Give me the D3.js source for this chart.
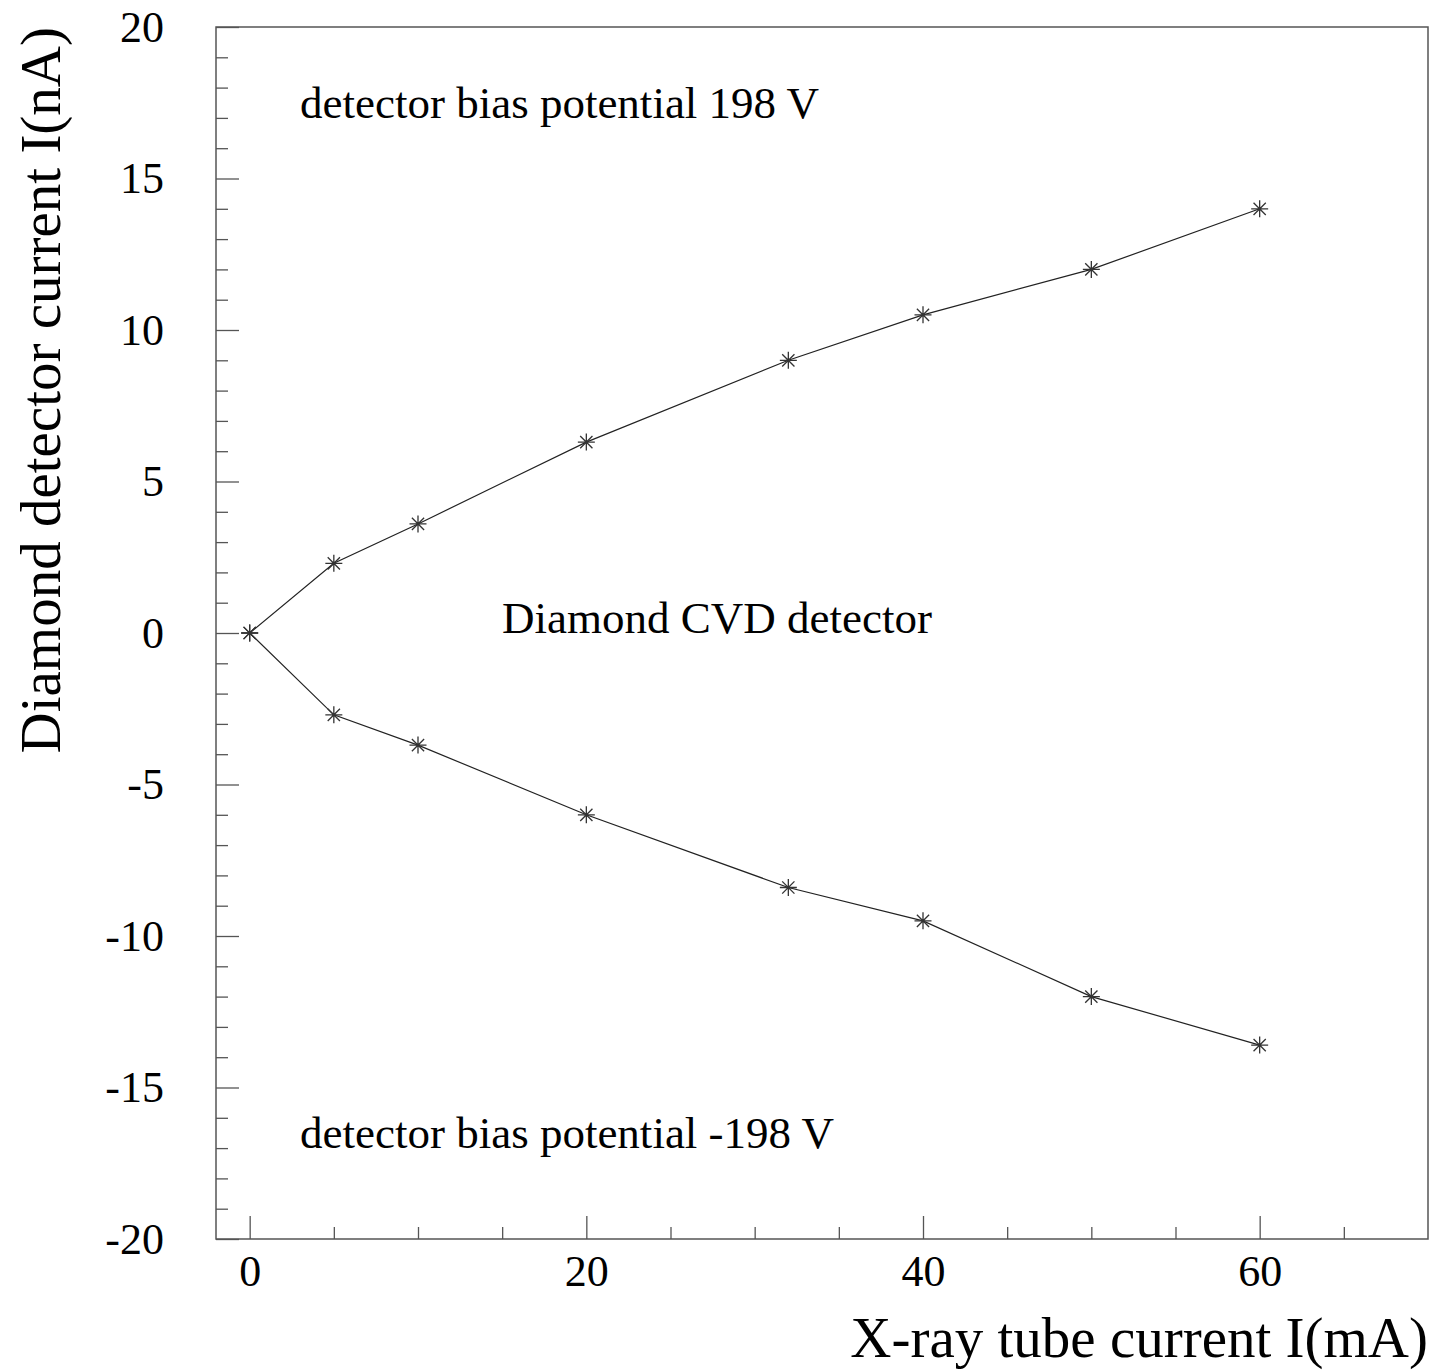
<!DOCTYPE html>
<html lang="en">
<head>
    <meta charset="UTF-8">
    <title>Diamond CVD detector</title>
    <script src="https://cdn.jsdelivr.net/npm/d3@7"></script>
    <style>
        body { margin: 0; background: #fff; }
        svg { display: block; font-family: "Liberation Serif", "DejaVu Serif", serif; }
    </style>
</head>
<body>
    <div id="graphDiv"></div>
    <script>
        // Data
        var tubeCurrent = [0, 5, 10, 20, 32, 40, 50, 60]
        var currentPos = [0, 2.3, 3.6, 6.3, 9.0, 10.5, 12.0, 14.0]
        var currentNeg = [0, -2.7, -3.7, -6.0, -8.4, -9.5, -12.0, -13.6]

        var xMajorTicks = [0, 20, 40, 60]
        var xMinorTicks = [5, 10, 15, 25, 30, 35, 45, 50, 55, 65]
        var yMajorTicks = [-20, -15, -10, -5, 0, 5, 10, 15, 20]
        var yMinorTicks = d3.range(-19, 20).filter(d => d % 5 !== 0)

        var width = 1434
        var height = 1372

        // plot frame (note: "top" is reserved on window, so use other names)
        var frameL = 216, frameR = 1428, frameT = 27, frameB = 1239

        var svg = d3.select('#graphDiv')
                    .append('svg')
                    .attr('width', width)
                    .attr('height', height)

        var xScale = d3.scaleLinear().domain([-2, 70]).range([frameL, frameR])
        var yScale = d3.scaleLinear().domain([-20, 20]).range([frameB, frameT])

        svg.append('rect')
            .attr('x', frameL).attr('y', frameT)
            .attr('width', frameR - frameL).attr('height', frameB - frameT)
            .attr('fill', 'none')
            .attr('stroke', '#555')
            .attr('stroke-width', 1.5)

        // y axis, ticks pointing inward
        svg.append('g')
            .attr('transform', `translate(${frameL},0)`)
            .call(d3.axisLeft(yScale).tickValues(yMajorTicks).tickSizeInner(-23).tickSizeOuter(0)
                .tickPadding(52).tickFormat(d => String(d)))
        svg.append('g')
            .attr('transform', `translate(${frameL},0)`)
            .call(d3.axisLeft(yScale).tickValues(yMinorTicks).tickSizeInner(-12).tickSizeOuter(0).tickFormat(''))

        svg.append('g')
            .attr('transform', `translate(0,${frameB})`)
            .call(d3.axisBottom(xScale).tickValues(xMajorTicks).tickSizeInner(-23).tickSizeOuter(0)
                .tickPadding(16).tickFormat(d => String(d)))
        svg.append('g')
            .attr('transform', `translate(0,${frameB})`)
            .call(d3.axisBottom(xScale).tickValues(xMinorTicks).tickSizeInner(-12).tickSizeOuter(0).tickFormat(''))

        svg.selectAll('.domain').remove()
        svg.selectAll('.tick line').attr('stroke', '#555').attr('stroke-width', 1.3)
        svg.selectAll('.tick text')
            .attr('font-family', '"Liberation Serif", serif')
            .attr('font-size', 44)
            .attr('fill', '#000')

        // curves
        var line = d3.line().x(d => xScale(d[0])).y(d => yScale(d[1]))
        var series = [d3.zip(tubeCurrent, currentPos), d3.zip(tubeCurrent, currentNeg)]

        series.forEach(pts => {
            svg.append('path')
                .datum(pts)
                .attr('d', line)
                .attr('fill', 'none')
                .attr('stroke', '#222')
                .attr('stroke-width', 1.2)

            // asterisk markers
            var r = 8.5
            var k = r * 0.72
            var star = `M${-r},0L${r},0M0,${-r}L0,${r}` +
                `M${-k},${-k}L${k},${k}M${-k},${k}L${k},${-k}`
            svg.append('g').selectAll('path')
                .data(pts)
                .join('path')
                .attr('transform', d => `translate(${xScale(d[0])},${yScale(d[1])})`)
                .attr('d', star)
                .attr('stroke', '#333')
                .attr('stroke-width', 1.3)
        })

        // annotations
        var notes = svg.append('g').attr('font-size', 45).attr('fill', '#000')
        notes.append('text').attr('x', 300).attr('y', 118).text('detector bias potential 198 V')
        notes.append('text').attr('x', 300).attr('y', 1148).text('detector bias potential -198 V')
        notes.append('text').attr('x', 502).attr('y', 633).text('Diamond CVD detector')

        // axis titles
        svg.append('text')
            .attr('x', frameR).attr('y', 1357)
            .attr('text-anchor', 'end')
            .attr('font-size', 57)
            .text('X-ray tube current I(mA)')
        svg.append('text')
            .attr('transform', `translate(60,${frameT}) rotate(-90)`)
            .attr('text-anchor', 'end')
            .attr('font-size', 57)
            .text('Diamond detector current I(nA)')
    </script>
</body>
</html>
